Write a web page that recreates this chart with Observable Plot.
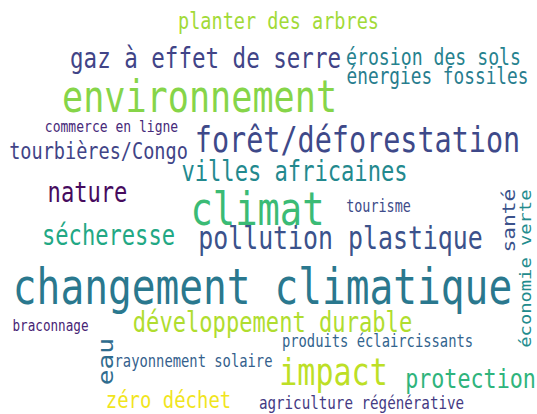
<!DOCTYPE html>
<html>
<head>
<meta charset="utf-8">
<script src="https://cdn.jsdelivr.net/npm/d3@7"></script>
<script src="https://cdn.jsdelivr.net/npm/@observablehq/plot@0.6"></script>
<style>
  html, body { margin: 0; padding: 0; background: #fff; overflow: hidden; }
</style>
</head>
<body>
<div id="chart"></div>
<script>
// Word cloud data (words, relative frequency, layout position, orientation, colour tone)
const words = [
  "changement climatique", "climat", "environnement", "forêt/déforestation",
  "gaz à effet de serre", "planter des arbres", "érosion des sols", "énergies fossiles",
  "commerce en ligne", "tourbières/Congo", "villes africaines", "nature",
  "tourisme", "sécheresse", "pollution plastique", "santé",
  "économie verte", "développement durable", "braconnage", "eau",
  "rayonnement solaire", "produits éclaircissants", "impact", "protection",
  "zéro déchet", "agriculture régénérative"
];
const freq = [100, 94, 89, 72, 57, 47, 46, 45, 33, 47, 56, 56, 34, 56, 63, 43, 38, 56, 32, 53, 35, 35, 76, 55, 48, 36];
const layoutX = [262, 257, 199, 357, 205, 278, 433, 437, 111, 98, 294, 87, 378, 108, 340, 509, 526, 272, 50, 106, 193, 377, 333, 470, 168, 361];
const layoutY = [288, 210, 97, 140, 58, 21, 57, 76, 126, 151, 172, 193, 206, 236, 238, 220, 268, 323, 325, 361, 361, 341, 372, 379, 400, 403];
const vertical = [0,0,0,0,0,0,0,0,0,0,0,0,0,0,0,1,1,0,0,1,0,0,0,0,0,0];
const tone = [0.40, 0.68, 0.82, 0.22, 0.20, 0.86, 0.44, 0.42, 0.12, 0.20, 0.47, 0.03, 0.23, 0.60, 0.25, 0.25, 0.48, 0.88, 0.10, 0.35, 0.30, 0.32, 0.90, 0.65, 0.98, 0.17];

const data = words.map((w, i) => ({
  word: w, freq: freq[i], x: layoutX[i], y: layoutY[i], vertical: vertical[i], tone: tone[i]
}));

const W = 537, H = 414;
const stretchY = 1.25;          // the reference glyphs are drawn taller than wide
const H0 = H / stretchY;
const sizeScale = d3.scaleLinear().domain([0, 100]).range([0, 39.5]);

const chart = Plot.plot({
  width: W,
  height: H0,
  margin: 0,
  style: { background: "#fff" },
  x: { domain: [0, W], range: [0, W], axis: null },
  y: { domain: [0, H], range: [0, H0], axis: null },
  color: { type: "linear", scheme: "viridis", domain: [0, 1] },
  marks: [
    Plot.text(data, {
      x: "x",
      y: "y",
      text: "word",
      fill: "tone",
      fontSize: d => sizeScale(d.freq),
      rotate: d => d.vertical ? -90 : 0,
      fontFamily: "DejaVu Sans Mono",
      textAnchor: "middle",
      lineAnchor: "middle"
    })
  ]
});
chart.setAttribute("height", H);
chart.setAttribute("preserveAspectRatio", "none");
chart.style.width = W + "px";
chart.style.height = H + "px";
chart.style.maxWidth = "none";
document.getElementById("chart").appendChild(chart);
</script>
</body>
</html>
